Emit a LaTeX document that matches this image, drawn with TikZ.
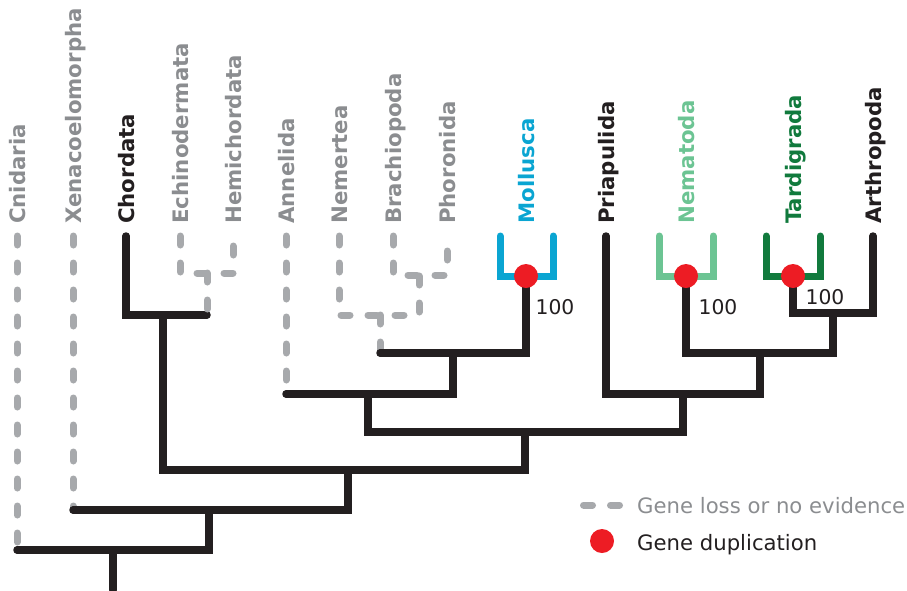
\documentclass[tikz,border=0pt]{standalone}
\usepackage{fontspec}
\setmainfont{DejaVu Sans}
\usepackage{tikz}
\definecolor{treeblack}{HTML}{231F20}
\definecolor{lossgrey}{HTML}{A7A9AC}
\definecolor{labelgrey}{HTML}{8B8D90}
\definecolor{molluscblue}{HTML}{0AA5D2}
\definecolor{nematodagreen}{HTML}{6CC493}
\definecolor{tardigreen}{HTML}{117A3D}
\definecolor{dupred}{HTML}{ED1C24}
\begin{document}
\begin{tikzpicture}[x=1pt,y=-1pt]
\tikzset{branch/.style={draw=treeblack,line width=7.5pt,line cap=round}}
\tikzset{loss/.style={draw=lossgrey,line width=7pt,line cap=round,dash pattern=on 9pt off 18pt}}
\tikzset{fork/.style={line width=7pt,line cap=round}}
\tikzset{taxon/.style={rotate=90,anchor=mid west,inner sep=0pt,font=\fontsize{21.3}{25}\selectfont\bfseries}}
\tikzset{dup/.style={circle,fill=dupred,minimum size=24pt,inner sep=0pt}}
\tikzset{support/.style={inner sep=0pt,text=treeblack,font=\fontsize{20.3}{24}\selectfont}}
\tikzset{keytext/.style={anchor=base west,inner sep=0pt,font=\fontsize{21.2}{25}\selectfont}}
\useasboundingbox (0,0) rectangle (907,590);

\coordinate (cni) at (17,236);
\coordinate (xen) at (73,236);
\coordinate (cho) at (126,236);
\coordinate (ech) at (180,236);
\coordinate (hem) at (233,236);
\coordinate (ann) at (286,236);
\coordinate (nem) at (339,236);
\coordinate (bra) at (393,236);
\coordinate (pho) at (447,236);
\coordinate (molL) at (500,236);
\coordinate (molR) at (553,236);
\coordinate (pri) at (606,236);
\coordinate (nemaL) at (659,236);
\coordinate (nemaR) at (713,236);
\coordinate (tarL) at (766,236);
\coordinate (tarR) at (820,236);
\coordinate (art) at (873,236);

\coordinate (base) at (113,590);
\coordinate (root) at (113,550);
\coordinate (bil) at (209,510);
\coordinate (nep) at (348,470);
\coordinate (deu) at (163,315);
\coordinate (amb) at (207,273);
\coordinate (pro) at (525,432);
\coordinate (spi) at (368,394);
\coordinate (lop) at (453,353);
\coordinate (nbp) at (380,315);
\coordinate (brp) at (419,275);
\coordinate (molj) at (526,276);
\coordinate (ecd) at (683,394);
\coordinate (pan) at (760,353);
\coordinate (nemaj) at (686,276);
\coordinate (tac) at (833,313);
\coordinate (tarj) at (793,276);

\node[taxon,text=labelgrey] (cnidaria) at (22.5,224) {Cnidaria};
\node[taxon,text=labelgrey] (xenacoelomorpha) at (78.5,224) {Xenacoelomorpha};
\node[taxon,text=treeblack] (chordata) at (131.5,224) {Chordata};
\node[taxon,text=labelgrey] (echinodermata) at (185.5,224) {Echinodermata};
\node[taxon,text=labelgrey] (hemichordata) at (238.5,224) {Hemichordata};
\node[taxon,text=labelgrey] (annelida) at (291.5,224) {Annelida};
\node[taxon,text=labelgrey] (nemertea) at (344.5,224) {Nemertea};
\node[taxon,text=labelgrey] (brachiopoda) at (398.5,224) {Brachiopoda};
\node[taxon,text=labelgrey] (phoronida) at (452.5,224) {Phoronida};
\node[taxon,text=molluscblue] (mollusca) at (531.5,224) {Mollusca};
\node[taxon,text=treeblack] (priapulida) at (611.5,224) {Priapulida};
\node[taxon,text=nematodagreen] (nematoda) at (691.5,224) {Nematoda};
\node[taxon,text=tardigreen] (tardigrada) at (798.5,224) {Tardigrada};
\node[taxon,text=treeblack] (arthropoda) at (878.5,224) {Arthropoda};

\draw[branch] (base) -- (root);
\draw[loss] (cni) -- (cni |- root);
\draw[branch] (cni |- root) -| (bil);
\draw[loss] (xen) -- (xen |- bil);
\draw[branch] (xen |- bil) -| (nep);
\draw[branch] (deu) |- (nep) -| (pro);
\draw[branch] (cho) |- (deu) -- (amb |- deu);
\draw[loss] (ech) |- (amb) -| (hem);
\draw[loss] (amb) -- (amb |- deu);
\draw[branch] (spi) |- (pro) -| (ecd);
\draw[loss] (ann) -- (ann |- spi);
\draw[branch] (ann |- spi) -| (lop);
\draw[loss] (nem) |- (nbp) -| (brp);
\draw[loss] (bra) |- (brp) -| (pho);
\draw[loss] (nbp) -- (nbp |- lop);
\draw[branch] (nbp |- lop) -| (molj);
\draw[fork,draw=molluscblue] (molL) |- (molj) -| (molR);
\draw[branch] (pri) |- (ecd) -| (pan);
\draw[branch] (nemaj) |- (pan) -| (tac);
\draw[fork,draw=nematodagreen] (nemaL) |- (nemaj) -| (nemaR);
\draw[branch] (tarj) |- (tac) -| (art);
\draw[fork,draw=tardigreen] (tarL) |- (tarj) -| (tarR);

\node[dup] (moldup) at (molj) {};
\node[dup] (nemadup) at (nemaj) {};
\node[dup] (tardup) at (tarj) {};
\node[support] (molsupport) at (555,307) {100};
\node[support] (nemasupport) at (718,307) {100};
\node[support] (tarsupport) at (825,297) {100};

\coordinate (lossA) at (583.5,505);
\coordinate (lossB) at (620,505);
\draw[loss] (lossA) -- (lossB);
\node[keytext,text=labelgrey] (losskey) at (637,513) {Gene loss or no evidence};
\node[dup] (dupkey) at (602,541) {};
\node[keytext,text=treeblack] (dupkeytext) at (637,550) {Gene duplication};
\end{tikzpicture}
\end{document}
